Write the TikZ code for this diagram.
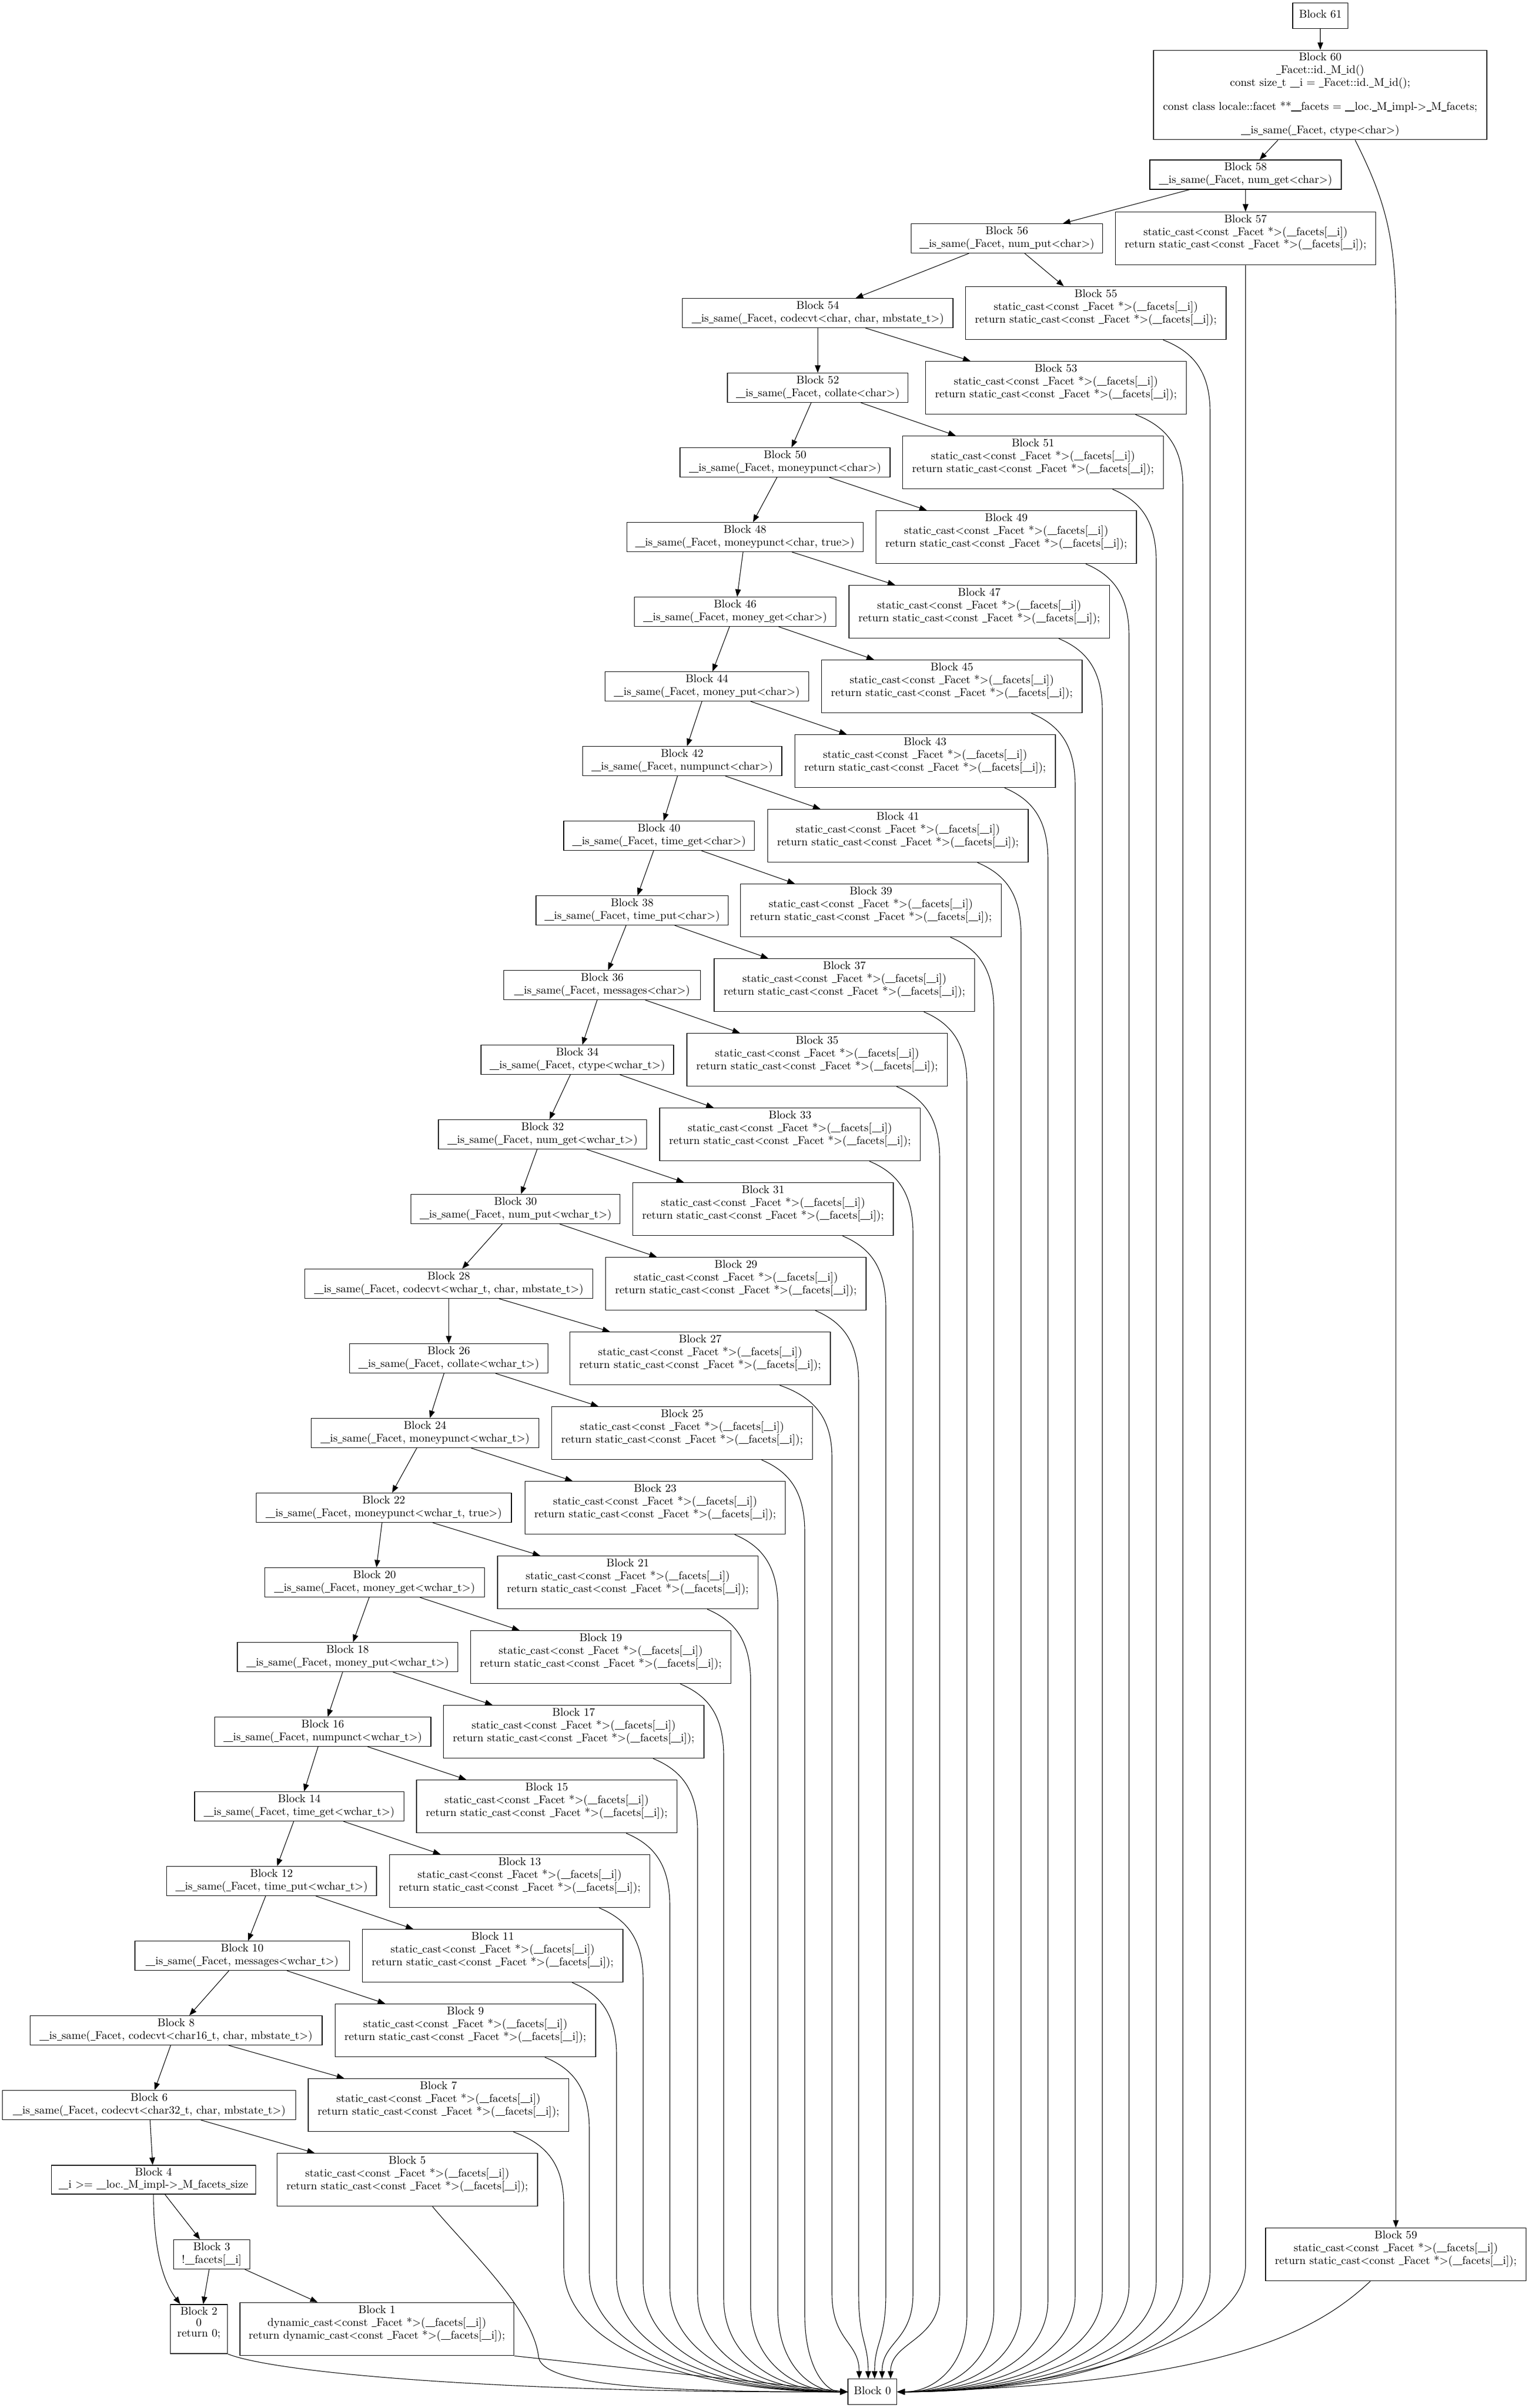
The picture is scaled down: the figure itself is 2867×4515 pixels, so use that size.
\documentclass[tikz,border=0pt]{standalone}
\usetikzlibrary{arrows.meta}
\newcommand\gvfont{\fontsize{10.55pt}{10.23pt}\selectfont}
\renewcommand\_{\leavevmode\rule[-0.11em]{0.43em}{0.05em}}
\newcommand\iss[1]{\_\_is\_same(\_Facet, #1)}
\newcommand\sclines{\strut static\_cast<const \_Facet *>(\_\_facets[\_\_i])\\\strut return static\_cast<const \_Facet *>(\_\_facets[\_\_i]);\\\strut}
\begin{document}
\begin{tikzpicture}[x=0.5pt,y=-0.5pt,
  blk/.style={draw, rectangle, line width=0.7pt, inner xsep=2pt, inner ysep=2.5pt, align=center, font=\gvfont},
  odd/.style={blk, minimum width=244.25pt},
  arr/.style={line width=0.55pt, -{Triangle[length=7pt,width=5.3pt]}}]
\newcommand\chainnode[5]{\node[blk, minimum width=#4pt] (b#1) at (#2,#3) {\strut Block #1\\\strut #5};}
\fill[white] (0,0) rectangle (2867,4515);
\useasboundingbox (0,0) rectangle (2867,4515);
% top
\node[blk, minimum width=51.8pt, minimum height=24pt] (b61) at (2475.8,29.5) {\strut Block 61};
\node[blk, minimum width=312.5pt] (b60) at (2475.5,178) {\strut Block 60\\\strut \_Facet::id.\_M\_id()\\\strut const size\_t \_\_i = \_Facet::id.\_M\_id();\\\strut\\\strut const class locale::facet **\_\_facets = \_\_loc.\_M\_impl->\_M\_facets;\\\strut\\\strut \iss{ctype<char>}};
% chain
\chainnode{58}{2335.5}{327.5}{179.5}{\iss{num\_get<char>}}
\chainnode{56}{1887.9}{447}{179.3}{\iss{num\_put<char>}}
\chainnode{54}{1533.3}{587}{253.75}{\iss{codecvt<char, char, mbstate\_t>}}
\chainnode{52}{1533.3}{727}{169.4}{\iss{collate<char>}}
\chainnode{50}{1472}{867}{196.95}{\iss{moneypunct<char>}}
\chainnode{48}{1396.9}{1007}{221.5}{\iss{moneypunct<char, true>}}
\chainnode{46}{1378.5}{1147}{189.25}{\iss{money\_get<char>}}
\chainnode{44}{1325.5}{1287}{190.9}{\iss{money\_put<char>}}
\chainnode{42}{1279}{1427}{186.8}{\iss{numpunct<char>}}
\chainnode{40}{1235.7}{1567}{178.85}{\iss{time\_get<char>}}
\chainnode{38}{1185.3}{1707}{180.25}{\iss{time\_put<char>}}
\chainnode{36}{1129.1}{1847}{184.5}{\iss{messages<char>}}
\chainnode{34}{1082.5}{1987}{180.65}{\iss{ctype<wchar\_t>}}
\chainnode{32}{1017.3}{2127}{195.35}{\iss{num\_get<wchar\_t>}}
\chainnode{30}{966.7}{2267}{196.05}{\iss{num\_put<wchar\_t>}}
\chainnode{28}{841.5}{2407}{270.1}{\iss{codecvt<wchar\_t, char, mbstate\_t>}}
\chainnode{26}{841.5}{2547}{185.9}{\iss{collate<wchar\_t>}}
\chainnode{24}{797}{2687}{213.4}{\iss{moneypunct<wchar\_t>}}
\chainnode{22}{719.7}{2827}{239.45}{\iss{moneypunct<wchar\_t, true>}}
\chainnode{20}{702.4}{2967}{206.1}{\iss{money\_get<wchar\_t>}}
\chainnode{18}{651.8}{3107}{206.8}{\iss{money\_put<wchar\_t>}}
\chainnode{16}{605.2}{3247}{202.8}{\iss{numpunct<wchar\_t>}}
\chainnode{14}{561.2}{3387}{196.2}{\iss{time\_get<wchar\_t>}}
\chainnode{12}{509.1}{3527}{196.9}{\iss{time\_put<wchar\_t>}}
\chainnode{10}{454.1}{3667}{201.3}{\iss{messages<wchar\_t>}}
\chainnode{8}{330.1}{3807}{273.7}{\iss{codecvt<char16\_t, char, mbstate\_t>}}
\chainnode{6}{279.7}{3947}{275}{\iss{codecvt<char32\_t, char, mbstate\_t>}}
\chainnode{4}{287.8}{4087}{191.45}{\_\_i >= \_\_loc.\_M\_impl->\_M\_facets\_size}
\chainnode{3}{397}{4227}{71.65}{!\_\_facets[\_\_i]}
\node[blk, minimum width=53.65pt] (b2) at (373,4367) {\strut Block 2\\\strut 0\\\strut return 0;\\\strut};
\node[blk, minimum width=256.9pt] (b1) at (706.8,4367) {\strut Block 1\\\strut dynamic\_cast<const \_Facet *>(\_\_facets[\_\_i])\\\strut return dynamic\_cast<const \_Facet *>(\_\_facets[\_\_i]);\\\strut};
\node[blk, minimum width=45.85pt, minimum height=24pt] (b0) at (1635.9,4484.7) {\strut Block 0};
\node[odd] (b59) at (2617.3,4227) {\strut Block 59\\\sclines};
% odd blocks
\foreach \n/\cx in {57/2335.5,55/2054.8,53/1980,51/1937,49/1886.8,47/1836.2,45/1784.8,43/1734.7,41/1683.7,39/1633,37/1583.4,35/1532.2,33/1481.3,31/1430.8,29/1379.9,27/1312.9,25/1279,23/1228.5,21/1177.2,19/1126.5,17/1075.7,15/1025.1,13/974.5,11/923.8,9/872.6,7/822.2,5/763.7}{
  \pgfmathsetmacro\cy{447+(28-(\n-1)/2)*140}
  \node[odd] (b\n) at (\cx,\cy) {\strut Block \n\\\sclines};
}
% chain edges
\draw[arr] (b61) -- (b60);
\draw[arr] (b60) -- (b58);
\draw[arr] (b58) -- (b57);
\draw[arr] (b58) -- (b56);
\foreach \k in {28,27,...,3}{
  \pgfmathtruncatemacro\a{2*\k}
  \pgfmathtruncatemacro\b{2*\k-1}
  \pgfmathtruncatemacro\c{2*\k-2}
  \draw[arr] (b\a) -- (b\b);
  \draw[arr] (b\a) -- (b\c);
}
\draw[arr] (b4) -- (b3);
\draw[arr] (b4.south) .. controls (288,4200) and (300,4270) .. ([xshift=-17.5pt]b2.north);
\draw[arr] (b3) -- (b2);
\draw[arr] (b3) -- (b1);
% 60 -> 59
\draw[arr] ([xshift=32.7pt]b60.south) .. controls (2600,380) and (2617.3,450) .. (2617.3,600) -- (b59.north);
% edges into Block 0
\draw[arr] (b57.south) -- (2335.5,4246) .. controls (2335.5,4400) and (1950,4484.7) .. (b0.east);
\foreach \n/\cx/\xv/\eo in {55/2054.8/2269/126,53/1980/2218/149,51/1937/2168/149,49/1886.8/2117/149,47/1836.2/2067/149,45/1784.8/2016/149,43/1734.7/1965/149,41/1683.7/1914.5/149,39/1633/1863.5/149,37/1583.4/1813/149}{
  \pgfmathsetmacro\yb{447+(28-(\n-1)/2)*140+46}
  \pgfmathsetmacro\ex{\cx+\eo}
  \pgfmathsetmacro\ca{\ex+0.6*(\xv-\ex)}
  \pgfmathsetmacro\ya{\yb+25}
  \pgfmathsetmacro\yc{\yb+60}
  \pgfmathsetmacro\yd{\yb+140}
  \pgfmathsetmacro\ybend{4340-(\xv-1813)*0.18}
  \pgfmathsetmacro\ye{\ybend+0.65*(4484.7-\ybend)}
  \pgfmathsetmacro\xf{\xv-0.45*(\xv-1681.7)}
  \pgfmathsetmacro\xs{\eo*0.5}
  \draw[arr] ([xshift=\xs pt]b\n.south) .. controls (\ca,\ya) and (\xv,\yc) .. (\xv,\yd) -- (\xv,\ybend) .. controls (\xv,\ye) and (\xf,4484.7) .. (b0.east);
}
\foreach \n/\cx/\xv/\tx in {35/1532.2/1762/17,33/1481.3/1712/9,31/1430.8/1661/2,29/1379.9/1610/-4,27/1312.9/1560/-12.45}{
  \pgfmathsetmacro\yb{447+(28-(\n-1)/2)*140+46}
  \pgfmathsetmacro\ex{\cx+149}
  \pgfmathsetmacro\ca{\ex+0.6*(\xv-\ex)}
  \pgfmathsetmacro\ya{\yb+25}
  \pgfmathsetmacro\yc{\yb+60}
  \pgfmathsetmacro\yd{\yb+140}
  \pgfmathsetmacro\txp{1635.9+2*\tx}
  \draw[arr] ([xshift=74.5pt]b\n.south) .. controls (\ca,\ya) and (\xv,\yc) .. (\xv,\yd) -- (\xv,4300) .. controls (\xv,4390) and (\txp,4390) .. ([xshift=\tx pt]b0.north);
}
\foreach \n/\cx/\xv/\eo in {25/1279/1509/149,23/1228.5/1458.5/149,21/1177.2/1407.5/149,19/1126.5/1357/149,17/1075.7/1308/149,15/1025.1/1256/149,13/974.5/1206/149,11/923.8/1156/149,9/872.6/1105/149,7/822.2/1057/140.4}{
  \pgfmathsetmacro\yb{447+(28-(\n-1)/2)*140+46}
  \pgfmathsetmacro\ex{\cx+\eo}
  \pgfmathsetmacro\ca{\ex+0.6*(\xv-\ex)}
  \pgfmathsetmacro\ya{\yb+25}
  \pgfmathsetmacro\yc{\yb+60}
  \pgfmathsetmacro\yd{\yb+140}
  \pgfmathsetmacro\ybend{4250+(\xv-1057)*0.2}
  \pgfmathsetmacro\ye{\ybend+0.65*(4484.7-\ybend)}
  \pgfmathsetmacro\xf{\xv+0.45*(1590-\xv)}
  \pgfmathsetmacro\xs{\eo*0.5}
  \draw[arr] ([xshift=\xs pt]b\n.south) .. controls (\ca,\ya) and (\xv,\yc) .. (\xv,\yd) -- (\xv,\ybend) .. controls (\xv,\ye) and (\xf,4484.7) .. (b0.west);
}
\draw[arr] ([xshift=23.65pt]b5.south) .. controls (880,4220) and (1000,4330) .. (1010,4420) .. controls (1020,4475) and (1250,4484.7) .. (b0.west);
\draw[arr] (b1.south east) -- (b0.west);
\draw[arr] (b2.south east) .. controls (520,4450) and (950,4487) .. (b0.west);
\draw[arr] ([xshift=-23.9pt]b59.south) .. controls (2470,4370) and (2300,4470) .. (b0.east);
\end{tikzpicture}
\end{document}
